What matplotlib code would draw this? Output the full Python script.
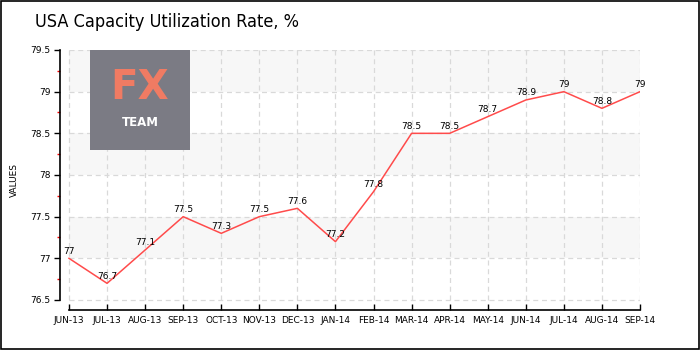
import numpy as np
import matplotlib.pyplot as plt
from matplotlib.patches import Rectangle

months = ['JUN-13', 'JUL-13', 'AUG-13', 'SEP-13', 'OCT-13', 'NOV-13', 'DEC-13', 'JAN-14',
          'FEB-14', 'MAR-14', 'APR-14', 'MAY-14', 'JUN-14', 'JUL-14', 'AUG-14', 'SEP-14']
rate = [77, 76.7, 77.1, 77.5, 77.3, 77.5, 77.6, 77.2,
        77.8, 78.5, 78.5, 78.7, 78.9, 79, 78.8, 79]
yticks = [76.5, 77, 77.5, 78, 78.5, 79, 79.5]

x = np.arange(len(months))

fig = plt.figure(figsize=(7, 3.5), dpi=100)
ax = fig.add_axes([60/700, 40/350, 580/700, 260/350])
ax.set_xlim(-0.236, len(months) - 1)
ax.set_ylim(76.5 - 10/83.33, 79.5)

# alternating bands
for lo in yticks[1::2]:
    ax.fill_between([0, len(months) - 1], lo, lo + 0.5, color='#f7f7f7', zorder=0, lw=0)

ax.hlines(yticks, 0, len(months) - 1, colors='#d9d9d9', linestyles=(0, (4, 3)), lw=0.9, zorder=1)
ax.vlines(x, yticks[0], yticks[-1], colors='#d9d9d9', linestyles=(0, (4, 3)), lw=0.9, zorder=1)

ax.plot(x, rate, color='#ff4b4b', lw=1.1, zorder=3)
for xi, v in zip(x, rate):
    ax.text(xi, v + 0.03, f'{v:g}', ha='center', va='bottom', fontsize=6.5, color='black', zorder=4)

for s in ['top', 'right']:
    ax.spines[s].set_visible(False)
ax.spines['left'].set_bounds(yticks[0], yticks[-1])
ax.spines['bottom'].set_bounds(0, len(months) - 1)
ax.spines['left'].set_linewidth(1.2)
ax.spines['bottom'].set_linewidth(1.2)

ax.set_xticks(x)
ax.set_xticklabels(months)
ax.set_yticks(yticks)
ax.set_yticklabels([f'{t:g}' for t in yticks])
ax.set_yticks([t + 0.25 for t in yticks[:-1]], minor=True)
ax.tick_params(axis='x', direction='in', length=4, width=1, labelsize=6.5, pad=4)
ax.tick_params(axis='y', which='major', direction='out', length=4, width=1, labelsize=6.5, pad=3)
ax.tick_params(axis='y', which='minor', direction='out', length=2, width=1, color='red')
ax.set_ylabel('VALUES', fontsize=6.5, labelpad=8)
ax.patch.set_alpha(0)

# logo
logo = fig.add_axes([90/700, 200/350, 100/700, 100/350])
logo.set_xlim(0, 1)
logo.set_ylim(0, 1)
logo.axis('off')
logo.add_patch(Rectangle((0, 0), 1, 1, color='#7b7b84'))
logo.text(0.5, 0.62, 'FX', ha='center', va='center', fontsize=29, color='#f07b63', fontweight='semibold')
logo.text(0.5, 0.28, 'TEAM', ha='center', va='center', fontsize=8.5, color='white', fontweight='bold')

fig.text(35/700, 1 - 22/350, 'USA Capacity Utilization Rate, %', fontsize=13, va='center',
         ha='left', fontstretch='condensed')

fig.patches.append(Rectangle((0.001, 0.002), 0.997, 0.995, transform=fig.transFigure,
                             fill=False, ec='black', lw=1.2))

fig.savefig('out.png', dpi=100)
